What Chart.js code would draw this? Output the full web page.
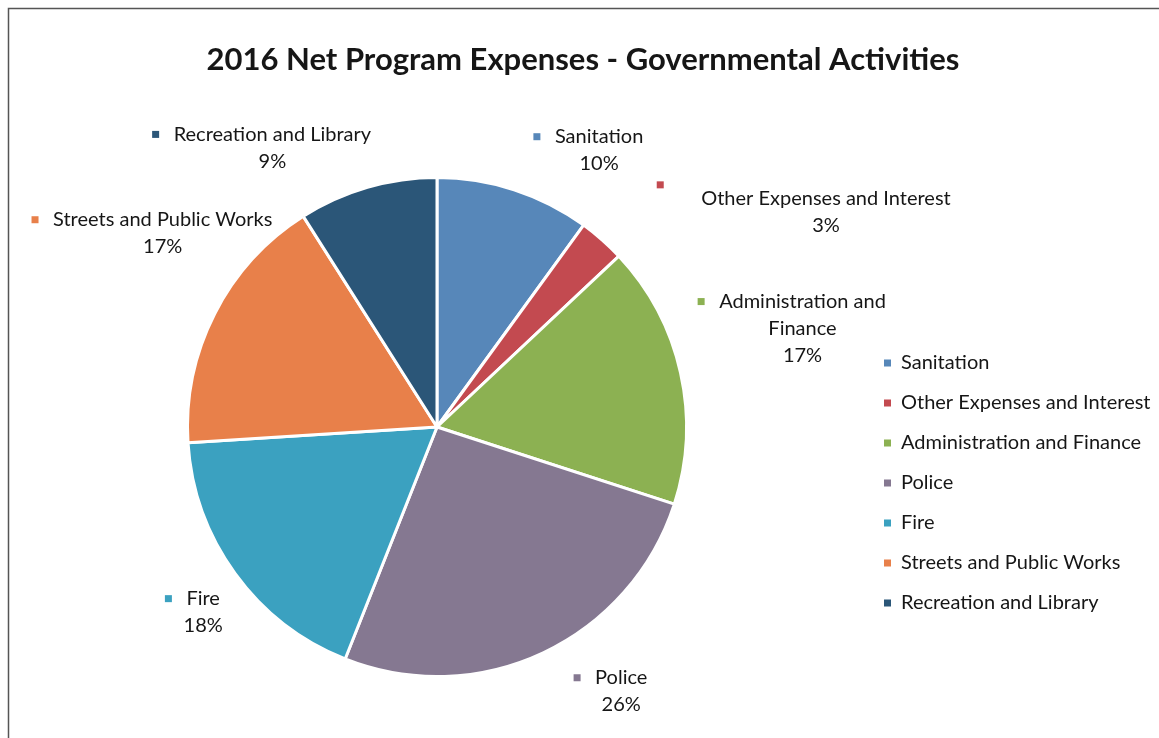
<!DOCTYPE html>
<html>
<head>
<meta charset="utf-8">
<title>2016 Net Program Expenses</title>
<script src="https://cdn.jsdelivr.net/npm/chart.js@4.4.1/dist/chart.umd.min.js"></script>
<style>
  html, body { margin: 0; padding: 0; background: #fff; }
  #wrap { width: 1159px; height: 738px; position: relative; }
</style>
</head>
<body>
<div id="wrap"><canvas id="expenses"></canvas></div>
<script>
const titleText = '2016 Net Program Expenses - Governmental Activities'
const categories = ['Sanitation', 'Other Expenses and Interest', 'Administration and Finance', 'Police', 'Fire', 'Streets and Public Works', 'Recreation and Library']
const shares = [10, 3, 17, 26, 18, 17, 9]
const sliceColors = ['#5787b9', '#c34a50', '#8cb152', '#857891', '#3ba1c0', '#e8804a', '#2b5678']

// caption text per slice, broken the way it wraps next to the pie
const captionLines = [
  ['Sanitation'],
  ['Other Expenses and Interest'],
  ['Administration and', 'Finance'],
  ['Police'],
  ['Fire'],
  ['Streets and Public Works'],
  ['Recreation and Library']
]
// where each caption sits, relative to the middle of its slice's rim
const captionShift = [[85, -53], [224, -41], [122, -71], [78, 25], [-32, 25], [-52, -94], [-95, -53]]
// the "Other" caption has its swatch floating above the line
const swatchShift = { 1: [-41, -14] }

const FONT = 'Lato, "Open Sans", sans-serif'
const INK = '#161616'

const pageDecor = {
  id: 'pageDecor',
  beforeDraw(chart) {
    const { ctx } = chart
    ctx.save()
    ctx.fillStyle = '#fff'
    ctx.fillRect(0, 0, chart.width, chart.height)
    // frame
    ctx.strokeStyle = '#555'
    ctx.lineWidth = 1.5
    ctx.beginPath()
    ctx.moveTo(8.5, chart.height)
    ctx.lineTo(8.5, 8.5)
    ctx.lineTo(chart.width, 8.5)
    ctx.stroke()
    ctx.restore()
  },
  afterDraw(chart) {
    const { ctx } = chart
    const meta = chart.getDatasetMeta(0)
    const colors = chart.data.datasets[0].backgroundColor
    const total = chart.data.datasets[0].data.reduce((a, b) => a + b, 0)

    ctx.save()
    ctx.fillStyle = INK
    ctx.textBaseline = 'middle'

    // title
    ctx.font = 'bold 31px ' + FONT
    ctx.textAlign = 'center'
    ctx.fillText(titleText, 583, 60)

    // slice captions
    ctx.font = '20px ' + FONT
    meta.data.forEach((arc, i) => {
      const p = arc.getProps(['x', 'y', 'startAngle', 'endAngle', 'outerRadius'], true)
      const mid = (p.startAngle + p.endAngle) / 2
      const rimX = p.x + Math.cos(mid) * p.outerRadius
      const rimY = p.y + Math.sin(mid) * p.outerRadius
      const cx = rimX + captionShift[i][0]
      const cy = rimY + captionShift[i][1]
      const value = chart.data.datasets[0].data[i]
      const lines = captionLines[i].concat([Math.round(value / total * 100) + '%'])

      ctx.textAlign = 'center'
      ctx.fillStyle = INK
      lines.forEach((line, k) => ctx.fillText(line, cx, cy + k * 27))

      const firstW = ctx.measureText(lines[0]).width
      let sx = cx - firstW / 2 - 18
      let sy = cy
      if (swatchShift[i]) {
        sx = cx - firstW / 2 + swatchShift[i][0]
        sy = cy + swatchShift[i][1]
      }
      ctx.fillStyle = colors[i]
      ctx.fillRect(sx - 3.5, sy - 3.5, 7, 7)
    })

    // legend
    ctx.textAlign = 'left'
    chart.data.labels.forEach((label, i) => {
      const y = 363 + i * 40
      ctx.fillStyle = colors[i]
      ctx.fillRect(884, y - 3.5, 7, 7)
      ctx.fillStyle = INK
      ctx.fillText(label, 901, y)
    })
    ctx.restore()
  }
}

new Chart(document.getElementById('expenses'), {
  type: 'pie',
  data: {
    labels: categories,
    datasets: [{
      data: shares,
      backgroundColor: sliceColors,
      borderColor: '#fff',
      borderWidth: 3
    }]
  },
  options: {
    responsive: true,
    maintainAspectRatio: false,
    animation: false,
    layout: {
      padding: { left: 186, right: 471, top: 175, bottom: 59 }
    },
    plugins: {
      legend: { display: false },
      title: { display: false },
      tooltip: { enabled: false }
    }
  },
  plugins: [pageDecor]
})
</script>
</body>
</html>
